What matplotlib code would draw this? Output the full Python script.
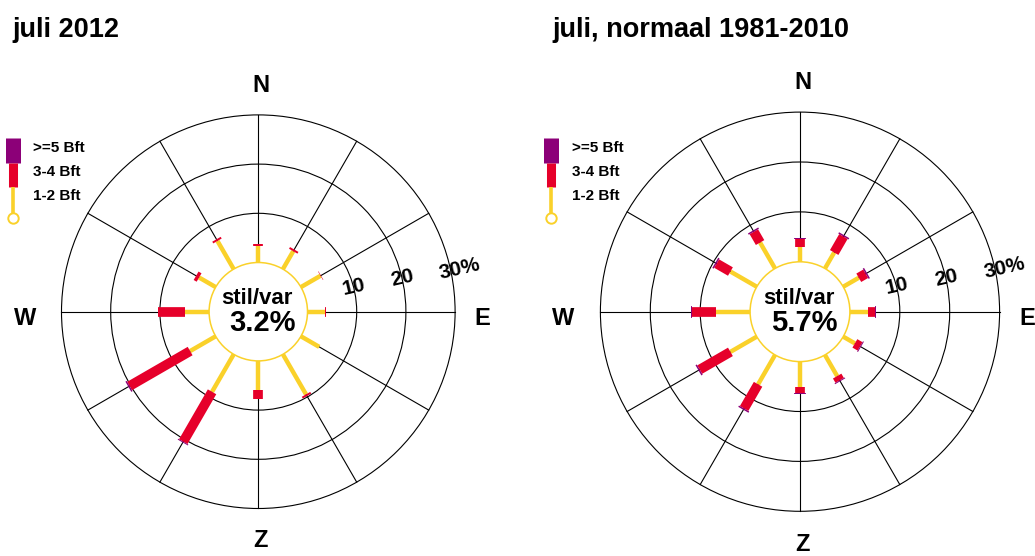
import numpy as np
import matplotlib
matplotlib.use('Agg')
import matplotlib.pyplot as plt
from matplotlib.patches import Circle

plt.rcParams['font.family'] = ['Liberation Sans', 'DejaVu Sans']

# wind directions (degrees from north, clockwise)
directions = [0, 30, 60, 90, 120, 150, 180, 210, 240, 270, 300, 330]
compass_labels = ['N', 'E', 'Z', 'W']
ring_values = [10, 20, 30]
ring_texts = ['10', '20', '30%']
legend_labels = ['>=5 Bft', '3-4 Bft', '1-2 Bft']

# juli 2012 (% of time per direction and wind force class)
jul2012_bft12 = [3.3, 4.2, 4.6, 3.6, 4.3, 9.4, 6.0, 8.8, 6.0, 4.9, 3.9, 6.6]
jul2012_bft34 = [0.5, 0.4, 0.1, 0.2, 0.0, 0.4, 1.8, 11.7, 14.2, 5.4, 0.7, 0.4]
jul2012_bft5 = [0.0, 0.0, 0.0, 0.0, 0.0, 0.0, 0.0, 0.2, 0.3, 0.0, 0.0, 0.0]
jul2012_calm = 3.2

# juli normaal 1981-2010
normal_bft12 = [2.9, 3.7, 3.6, 3.7, 2.7, 4.9, 5.0, 6.8, 6.1, 6.8, 6.1, 6.0]
normal_bft34 = [1.6, 3.7, 1.6, 1.3, 1.2, 1.0, 1.3, 5.6, 7.1, 4.8, 3.2, 2.5]
normal_bft5 = [0.3, 0.3, 0.3, 0.2, 0.2, 0.2, 0.2, 0.3, 0.3, 0.3, 0.3, 0.3]
normal_calm = 5.7

YELLOW = '#FAD12A'
RED = '#E6002A'
PURPLE = '#8C0078'

W, H = 1035, 556
fig = plt.figure(figsize=(W / 100, H / 100), dpi=100)

# overlay axes in pixel coordinates for titles / legend
ov = fig.add_axes([0, 0, 1, 1])
ov.set_xlim(0, W)
ov.set_ylim(H, 0)
ov.axis('off')

R0 = 10  # radius of the calm circle in % units


def pol(r, deg):
    a = np.deg2rad(deg)
    return r * np.sin(a), r * np.cos(a)


def draw_rose(cx, cy, ppu, bft12, bft34, bft5, calm):
    half = 45 * ppu
    ax = fig.add_axes([(cx - half) / W, (H - cy - half) / H, 2 * half / W, 2 * half / H])
    ax.set_xlim(-45, 45)
    ax.set_ylim(-45, 45)
    ax.set_aspect('equal')
    ax.axis('off')

    # spokes and rings
    for d in directions:
        x0, y0 = pol(R0, d)
        x1, y1 = pol(R0 + 30, d)
        ax.plot([x0, x1], [y0, y1], color='black', lw=0.8, zorder=1)
    for v in ring_values:
        ax.add_patch(Circle((0, 0), R0 + v, fill=False, ec='black', lw=0.8, zorder=1))
    ax.add_patch(Circle((0, 0), R0, fc='white', ec=YELLOW, lw=1.1, zorder=2))

    # bars
    for d, a, b, c in zip(directions, bft12, bft34, bft5):
        r1 = R0 + a
        r2 = r1 + b
        r3 = r2 + c
        x0, y0 = pol(R0, d)
        x1, y1 = pol(r1, d)
        ax.plot([x0, x1], [y0, y1], color=YELLOW, lw=3.2, solid_capstyle='butt', zorder=3)
        if b > 0:
            x2, y2 = pol(r2, d)
            ax.plot([x1, x2], [y1, y2], color=RED, lw=7.0, solid_capstyle='butt', zorder=4)
        if c > 0:
            x2, y2 = pol(r2, d)
            x3, y3 = pol(r3, d)
            ax.plot([x2, x3], [y2, y3], color=PURPLE, lw=8.5, solid_capstyle='butt', zorder=4)

    # centre text
    ax.text(-0.2, 2.7, 'stil/var', ha='center', va='center', fontsize=16,
            fontweight='bold', zorder=5)
    ax.text(0.8, -2.2, '%.1f%%' % calm, ha='center', va='center', fontsize=21,
            fontweight='bold', zorder=5)

    # ring labels
    ax.text(19.45, 5.1, ring_texts[0], ha='center', va='center', fontsize=15,
            fontweight='bold', rotation=13, zorder=5)
    ax.text(29.35, 6.8, ring_texts[1], ha='center', va='center', fontsize=15,
            fontweight='bold', rotation=13, zorder=5)
    ax.text(41.0, 8.7, ring_texts[2], ha='center', va='center', fontsize=15,
            fontweight='bold', rotation=13, zorder=5)

    # compass labels
    for lab, (lx, ly) in zip(compass_labels, [(0.5, 46.0), (45.5, -1.3), (0.5, -46.6), (-47.4, -1.3)]):
        ax.text(lx, ly, lab, ha='center', va='center', fontsize=17, fontweight='bold',
                clip_on=False)
    return ax


def draw_legend(x):
    ov.plot([x, x], [137.5, 162.5], color=PURPLE, lw=10.8, solid_capstyle='butt')
    ov.plot([x, x], [162.5, 187], color=RED, lw=6.5, solid_capstyle='butt')
    ov.plot([x, x], [187, 213], color=YELLOW, lw=2.6, solid_capstyle='butt')
    ov.plot([x], [218], marker='o', ms=7.5, mfc='white', mec=YELLOW, mew=1.4)
    for lab, y in zip(legend_labels, [148, 172, 196]):
        ov.text(x + 20.5, y, lab, ha='left', va='center', fontsize=11, fontweight='bold')


draw_rose(258.3, 311.7, 4.92, jul2012_bft12, jul2012_bft34, jul2012_bft5, jul2012_calm)
draw_rose(800.0, 311.7, 4.99, normal_bft12, normal_bft34, normal_bft5, normal_calm)

draw_legend(12.5)
draw_legend(551)

ov.text(12, 30, 'juli 2012', ha='left', va='center', fontsize=19.5, fontweight='bold')
ov.text(552, 30, 'juli, normaal 1981-2010', ha='left', va='center', fontsize=19.5,
        fontweight='bold')

fig.savefig('out.png', dpi=100)
